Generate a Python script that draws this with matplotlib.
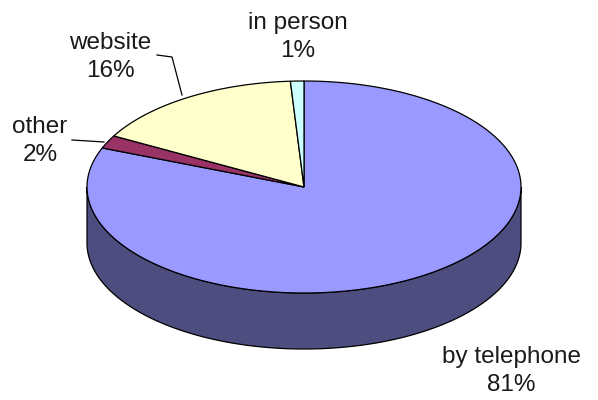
import numpy as np
import matplotlib
matplotlib.use("Agg")
from matplotlib import pyplot as plt
from matplotlib.patches import Polygon

# contact channel shares, clockwise from 12 o'clock
labels = ["by telephone", "other", "website", "in person"]
shares = [81, 2, 16, 1]
top_colors = ["#9999FF", "#993366", "#FFFFCC", "#CCFFFF"]
side_colors = ["#4D4D80", "#4D1A33", "#808066", "#668080"]

# ellipse geometry in pixels (y grows downward)
cx, cy = 304, 187
rx, ry = 217, 106
depth = 56

# label anchors (centre of text block) and leader lines
label_pos = {
    "by telephone": (511, 371),
    "other": (40, 141),
    "website": (110, 57),
    "in person": (298, 37),
}
leaders = {
    "other": ([72, 104], [140, 142]),
    "website": ([157, 172, 182], [55, 57, 95]),
}

fig = plt.figure(figsize=(5.98, 4.0), dpi=100)
ax = fig.add_axes([0, 0, 1, 1])
ax.set_xlim(0, 598)
ax.set_ylim(400, 0)
ax.axis("off")


def rim(t0, t1, n=200):
    t = np.radians(np.linspace(t0, t1, n))
    return cx + rx * np.sin(t), cy - ry * np.cos(t)


bounds = np.concatenate([[0], np.cumsum(shares)]) / sum(shares) * 360

# side walls: only the front half (90..270 deg) is visible
for i in range(len(shares)):
    a0, a1 = max(bounds[i], 90), min(bounds[i + 1], 270)
    if a1 <= a0:
        continue
    xs, ys = rim(a0, a1)
    px = np.concatenate([xs, xs[::-1]])
    py = np.concatenate([ys, ys[::-1] + depth])
    ax.add_patch(Polygon(np.column_stack([px, py]), closed=True,
                         facecolor=side_colors[i], edgecolor="black", lw=0.9))

# top faces
for i in range(len(shares)):
    xs, ys = rim(bounds[i], bounds[i + 1])
    px = np.concatenate([[cx], xs])
    py = np.concatenate([[cy], ys])
    ax.add_patch(Polygon(np.column_stack([px, py]), closed=True,
                         facecolor=top_colors[i], edgecolor="black", lw=0.9))

for name, val in zip(labels, shares):
    x, y = label_pos[name]
    ax.text(x, y, f"{name}\n{val}%", ha="center", va="center",
            fontsize=17.5, family="Liberation Sans", color="#1a1a1a",
            linespacing=1.4)

for name, (lx, ly) in leaders.items():
    ax.plot(lx, ly, color="black", lw=0.9)

fig.savefig("out.png", dpi=100)
